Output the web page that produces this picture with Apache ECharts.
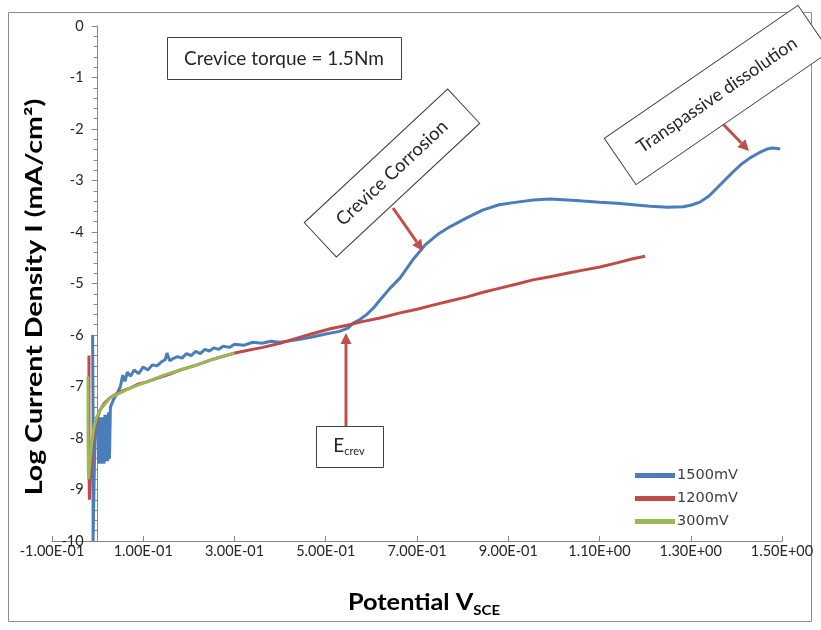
<!DOCTYPE html>
<html>
<head>
<meta charset="utf-8">
<script src="https://cdn.jsdelivr.net/npm/echarts@6.0.0/dist/echarts.min.js"></script>
<style>
    html, body { margin: 0; padding: 0; background: #fff; }
    #chart { width: 821px; height: 630px; }
</style>
</head>
<body>
<div id="chart"></div>
<script>
    // series names / colours (Excel 2007 palette)
    var seriesNames = ['1500mV', '1200mV', '300mV'];
    var seriesColors = ['#4a7ebb', '#be4b48', '#98b954'];

    // [potential V, log i]
    var data1500 = [
        [-0.011, -6.0], [-0.010, -7.5], [-0.010, -10.0], [-0.008, -9.0], [-0.006, -8.0], [0.000, -7.6],
        [0.002, -8.5], [0.004, -7.6], [0.006, -8.5], [0.008, -7.6], [0.010, -8.5], [0.012, -7.6],
        [0.014, -8.5], [0.016, -7.55], [0.018, -8.45], [0.020, -7.55], [0.022, -8.45], [0.024, -7.5],
        [0.026, -8.4], [0.028, -7.4], [0.035, -7.25], [0.042, -7.15], [0.050, -7.0], [0.055, -6.78],
        [0.060, -6.9], [0.065, -6.72], [0.072, -6.8], [0.080, -6.68], [0.090, -6.75], [0.100, -6.62],
        [0.110, -6.68], [0.120, -6.58], [0.130, -6.6], [0.140, -6.52], [0.148, -6.48], [0.152, -6.35],
        [0.158, -6.5], [0.165, -6.46], [0.175, -6.42], [0.185, -6.45], [0.195, -6.36], [0.205, -6.4],
        [0.215, -6.32], [0.225, -6.36], [0.235, -6.28], [0.245, -6.31], [0.255, -6.25], [0.265, -6.28],
        [0.275, -6.22], [0.290, -6.24], [0.300, -6.18], [0.320, -6.2], [0.340, -6.14], [0.360, -6.16],
        [0.380, -6.12], [0.400, -6.14], [0.440, -6.09], [0.470, -6.04], [0.500, -5.98], [0.530, -5.93],
        [0.550, -5.86], [0.560, -5.77], [0.575, -5.7], [0.590, -5.6], [0.605, -5.47], [0.619, -5.32],
        [0.640, -5.1], [0.663, -4.89], [0.690, -4.55], [0.718, -4.25], [0.745, -4.05], [0.772, -3.9],
        [0.810, -3.72], [0.845, -3.57], [0.880, -3.47], [0.919, -3.42], [0.955, -3.38], [0.992, -3.36],
        [1.030, -3.38], [1.064, -3.40], [1.100, -3.42], [1.138, -3.44], [1.175, -3.47], [1.211, -3.50],
        [1.250, -3.52], [1.283, -3.51], [1.300, -3.48], [1.320, -3.42], [1.340, -3.3], [1.357, -3.15],
        [1.375, -2.99], [1.393, -2.83], [1.410, -2.69], [1.430, -2.56], [1.450, -2.46], [1.467, -2.39],
        [1.480, -2.37], [1.496, -2.39]
    ];

    var data1200 = [
        [-0.019, -6.4], [-0.019, -8.5], [-0.018, -9.2], [-0.016, -8.8], [-0.012, -8.2], [-0.008, -7.9],
        [-0.004, -7.75], [0.000, -7.6], [0.005, -7.46], [0.015, -7.32], [0.027, -7.22], [0.050, -7.1],
        [0.071, -7.03], [0.090, -6.95], [0.108, -6.91], [0.130, -6.84], [0.152, -6.78], [0.181, -6.68],
        [0.218, -6.58], [0.253, -6.47], [0.301, -6.35], [0.327, -6.3], [0.362, -6.24], [0.400, -6.16],
        [0.437, -6.06], [0.472, -5.97], [0.510, -5.88], [0.547, -5.81], [0.580, -5.74], [0.619, -5.67],
        [0.663, -5.57], [0.700, -5.5], [0.735, -5.42], [0.772, -5.34], [0.810, -5.26], [0.845, -5.17],
        [0.882, -5.09], [0.919, -5.01], [0.954, -4.93], [0.992, -4.87], [1.029, -4.80], [1.064, -4.74],
        [1.101, -4.68], [1.138, -4.6], [1.173, -4.52], [1.200, -4.47]
    ];

    var data300 = [
        [-0.021, -6.8], [-0.021, -8.0], [-0.020, -8.8], [-0.017, -8.5], [-0.013, -8.1], [-0.008, -7.8],
        [-0.003, -7.62], [0.005, -7.46], [0.027, -7.22], [0.071, -7.03], [0.108, -6.91], [0.145, -6.78],
        [0.181, -6.68], [0.218, -6.58], [0.253, -6.47], [0.280, -6.4], [0.300, -6.35]
    ];

    var xMin = -0.1, xMax = 1.5, xStep = 0.2;
    var yMin = -10, yMax = 0, yStep = 1;

    var gridLeft = 52, gridRight = 39;
    // vertical axis crosses at potential 0 (Excel default)
    var yAxisShift = (0 - xMin) / (xMax - xMin) * (821 - gridLeft - gridRight);

    // Excel style 1.00E-01
    function sciLabel(v) {
        var parts = v.toExponential(2).split('e');
        var exp = parseInt(parts[1], 10);
        var a = Math.abs(exp);
        return parts[0] + 'E' + (exp < 0 ? '-' : '+') + (a < 10 ? '0' : '') + a;
    }

    var arrowColor = '#c0504d';

    function arrow(x1, y1, x2, y2) {
        var dx = x2 - x1, dy = y2 - y1;
        var len = Math.sqrt(dx * dx + dy * dy);
        var ux = dx / len, uy = dy / len;
        var hl = 11, hw = 5.5;
        var bx = x2 - ux * hl, by = y2 - uy * hl;
        return [
            {
                type: 'line', z: 50,
                shape: { x1: x1, y1: y1, x2: bx, y2: by },
                style: { stroke: arrowColor, lineWidth: 3 }
            },
            {
                type: 'polygon', z: 50,
                shape: { points: [[x2, y2], [bx - uy * hw, by + ux * hw], [bx + uy * hw, by - ux * hw]] },
                style: { fill: arrowColor }
            }
        ];
    }

    function box(cx, cy, w, h, deg, text, size) {
        return {
            type: 'group', x: cx, y: cy, rotation: deg * Math.PI / 180, z: 60,
            children: [
                {
                    type: 'rect', z: 60,
                    shape: { x: -w / 2, y: -h / 2, width: w, height: h },
                    style: { fill: '#fff', stroke: '#404040', lineWidth: 1 }
                },
                {
                    type: 'text', z: 61,
                    style: {
                        text: text, x: 0, y: 0, align: 'center', verticalAlign: 'middle',
                        fontFamily: 'Lato', fontSize: size, fill: '#262626'
                    }
                }
            ]
        };
    }

    var font = 'Lato';
    var graphics = [
        {
            type: 'rect', z: 0,
            shape: { x: 8.5, y: 12.5, width: 803, height: 609 },
            style: { fill: 'none', stroke: '#8c8c8c', lineWidth: 1 }
        },
        {
            type: 'text', x: 35, y: 297, rotation: Math.PI / 2, scaleX: 1.3,
            style: {
                text: 'Log Current Density I (mA/cm\u00b2)', x: 0, y: 0, align: 'center', verticalAlign: 'middle',
                fontFamily: font, fontSize: 22, fontWeight: 'bold', fill: '#000'
            }
        },
        {
            type: 'text', x: 424, y: 603, scaleX: 1.15,
            style: {
                text: 'Potential V{sub|SCE}', x: 0, y: 0, align: 'center', verticalAlign: 'middle',
                fontFamily: font, fontSize: 22, fontWeight: 'bold', fill: '#000',
                rich: { sub: { fontFamily: font, fontSize: 13, fontWeight: 'bold', fill: '#000', padding: [15, 0, 0, 0] } }
            }
        },
        {
            type: 'rect', z: 60,
            shape: { x: 167.5, y: 37.5, width: 234, height: 42 },
            style: { fill: '#fff', stroke: '#404040', lineWidth: 1 }
        },
        {
            type: 'text', x: 284, y: 59, z: 61,
            style: {
                text: 'Crevice torque = 1.5Nm', x: 0, y: 0, align: 'center', verticalAlign: 'middle',
                fontFamily: font, fontSize: 19, fill: '#262626'
            }
        },
        {
            type: 'rect', z: 60,
            shape: { x: 316.5, y: 426.5, width: 67, height: 41 },
            style: { fill: '#fff', stroke: '#404040', lineWidth: 1 }
        },
        {
            type: 'text', x: 349, y: 446, z: 61,
            style: {
                text: 'E{sub|crev}', x: 0, y: 0, align: 'center', verticalAlign: 'middle',
                fontFamily: font, fontSize: 19, fill: '#262626',
                rich: { sub: { fontFamily: font, fontSize: 11, fill: '#262626', padding: [11, 0, 0, 0] } }
            }
        },
        box(392, 173, 196, 47, 43, 'Crevice Corrosion', 18.5),
        box(717, 95, 235, 56, 34.5, 'Transpassive dissolution', 18)
    ];
    graphics = graphics.concat(arrow(346, 426, 346, 333));
    graphics = graphics.concat(arrow(393, 208, 423, 251));
    graphics = graphics.concat(arrow(722, 123, 749, 151));

    var allData = [data1500, data1200, data300];
    var series = [];
    for (var i = 0; i < allData.length; i++) {
        series.push({
            name: seriesNames[i],
            type: 'line',
            data: allData[i],
            showSymbol: false,
            symbol: 'none',
            lineStyle: { color: seriesColors[i], width: 3 },
            itemStyle: { color: seriesColors[i] },
            z: 2 + i
        });
    }

    var option = {
        animation: false,
        backgroundColor: '#fff',
        grid: { left: gridLeft, right: gridRight, top: 26, bottom: 89 },
        legend: {
            orient: 'vertical',
            left: 635,
            top: 468,
            padding: 0,
            itemWidth: 40,
            itemHeight: 5,
            itemGap: 8,
            icon: 'rect',
            data: seriesNames,
            textStyle: { fontFamily: 'DejaVu Sans', fontSize: 14.5, color: '#404040', padding: [0, 0, 0, -3] }
        },
        xAxis: {
            type: 'value',
            min: xMin,
            max: xMax,
            interval: xStep,
            axisLine: { onZero: false, lineStyle: { color: '#868686', width: 1 } },
            axisTick: { inside: true, length: 5, lineStyle: { color: '#868686' } },
            splitLine: { show: false },
            axisLabel: {
                margin: 3,
                fontFamily: font,
                fontSize: 14.5,
                color: '#262626',
                formatter: sciLabel
            }
        },
        yAxis: {
            type: 'value',
            min: yMin,
            max: yMax,
            interval: yStep,
            offset: -yAxisShift,
            axisLine: { onZero: false, lineStyle: { color: '#868686', width: 1 } },
            axisTick: { length: 6, lineStyle: { color: '#868686' } },
            minorTick: { show: true, splitNumber: 5, length: 4, lineStyle: { color: '#868686' } },
            splitLine: { show: false },
            axisLabel: { margin: 14, fontFamily: font, fontSize: 14.5, color: '#262626' }
        },
        graphic: graphics,
        series: series
    };

    var myChart = echarts.init(document.getElementById('chart'));
    myChart.setOption(option);
</script>
</body>
</html>
